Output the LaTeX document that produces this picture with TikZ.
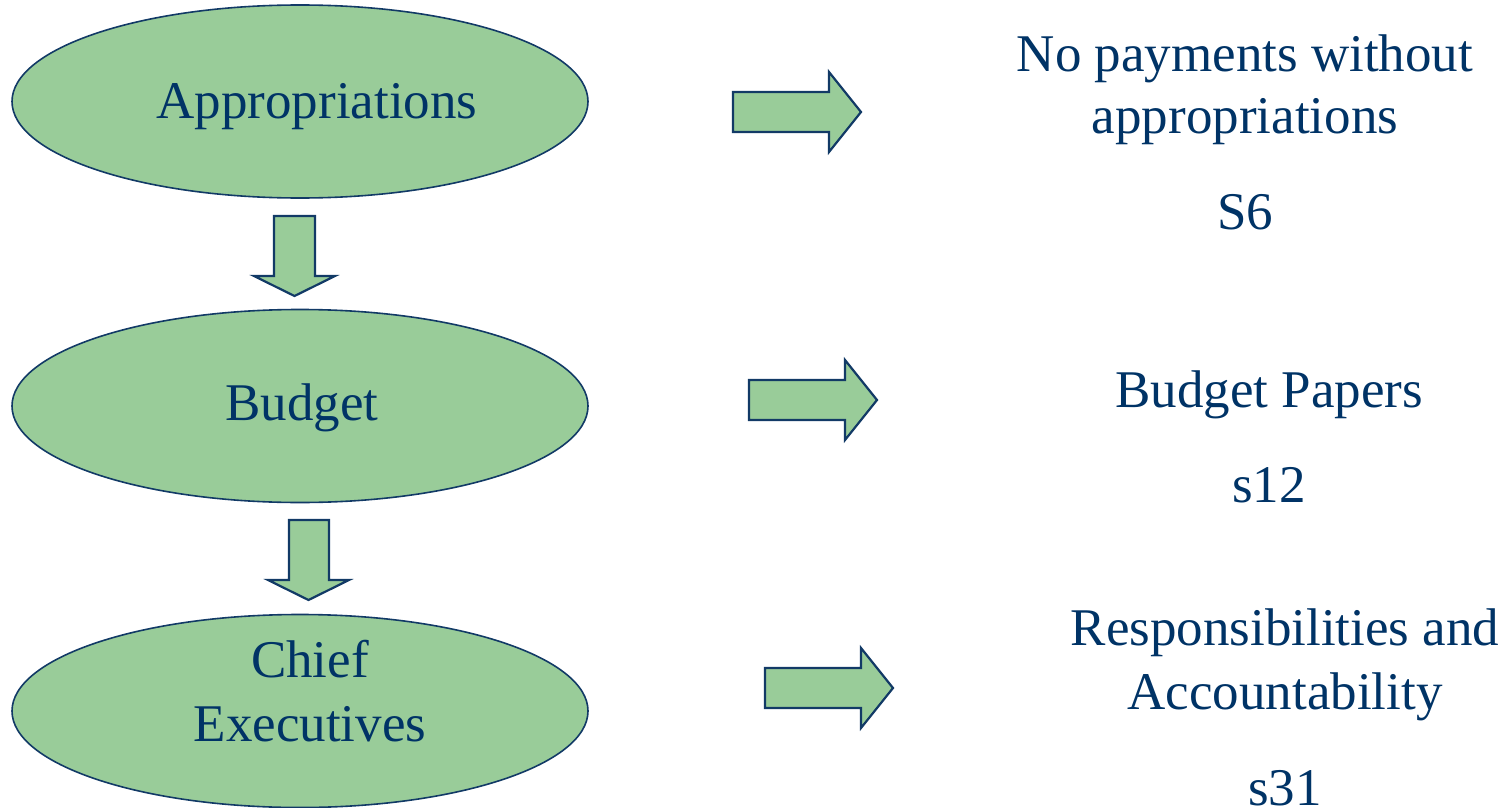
\documentclass[tikz,border=0pt]{standalone}
\usepackage{fontspec}
\setmainfont{Liberation Serif}
\usetikzlibrary{shapes.geometric}
\definecolor{boxfill}{HTML}{99CC99}
\definecolor{boxline}{HTML}{123A66}
\definecolor{txt}{HTML}{003366}
\begin{document}
\begin{tikzpicture}[x=1pt,y=-1pt,
  oval/.style={ellipse,draw=boxline,fill=boxfill,line width=1.6pt,inner sep=0pt,minimum width=576pt,minimum height=193pt},
  lbl/.style={anchor=base,inner sep=0pt,text=txt,font=\fontsize{53}{62}\selectfont},
  blockarrow/.style={draw=boxline,fill=boxfill,line width=2.2pt,line join=miter}]
\useasboundingbox (0,0) rectangle (1510,808);
% ellipses
\node[oval] (e1) at (300,101.5) {};
\node[oval] (e2) at (300,406) {};
\node[oval] (e3) at (300,711) {};
% ellipse labels
\node[lbl] (t1) at (317,118) {Appropriations};
\node[lbl] (t2) at (302,420) {Budget};
\node[lbl] (t3a) at (310,677) {Chief};
\node[lbl] (t3b) at (310,741) {Executives};
% right texts
\node[lbl] (r1a) at (1245,71) {No payments without};
\node[lbl] (r1b) at (1245,133) {appropriations};
\node[lbl] (r1c) at (1245,229) {S6};
\node[lbl] (r2a) at (1269,407) {Budget Papers};
\node[lbl] (r2b) at (1269,502) {s12};
\node[lbl] (r3a) at (1285,645) {Responsibilities and};
\node[lbl] (r3b) at (1285,709) {Accountability};
\node[lbl] (r3c) at (1285,805) {s31};
% down block arrows
\draw[blockarrow] (274,216) -- (315,216) -- (315,276) -- (335,276) -- (294.5,296) -- (254,276) -- (274,276) -- cycle;
\draw[blockarrow] (289,520) -- (329,520) -- (329,580) -- (349,580) -- (308.5,600) -- (268,580) -- (289,580) -- cycle;
% right block arrows
\draw[blockarrow] (733,92) -- (829,92) -- (829,72) -- (861,112) -- (829,152) -- (829,132) -- (733,132) -- cycle;
\draw[blockarrow] (749,380) -- (845,380) -- (845,360) -- (877,400) -- (845,440) -- (845,420) -- (749,420) -- cycle;
\draw[blockarrow] (765,668) -- (861,668) -- (861,648) -- (893,688) -- (861,728) -- (861,708) -- (765,708) -- cycle;
\end{tikzpicture}
\end{document}
